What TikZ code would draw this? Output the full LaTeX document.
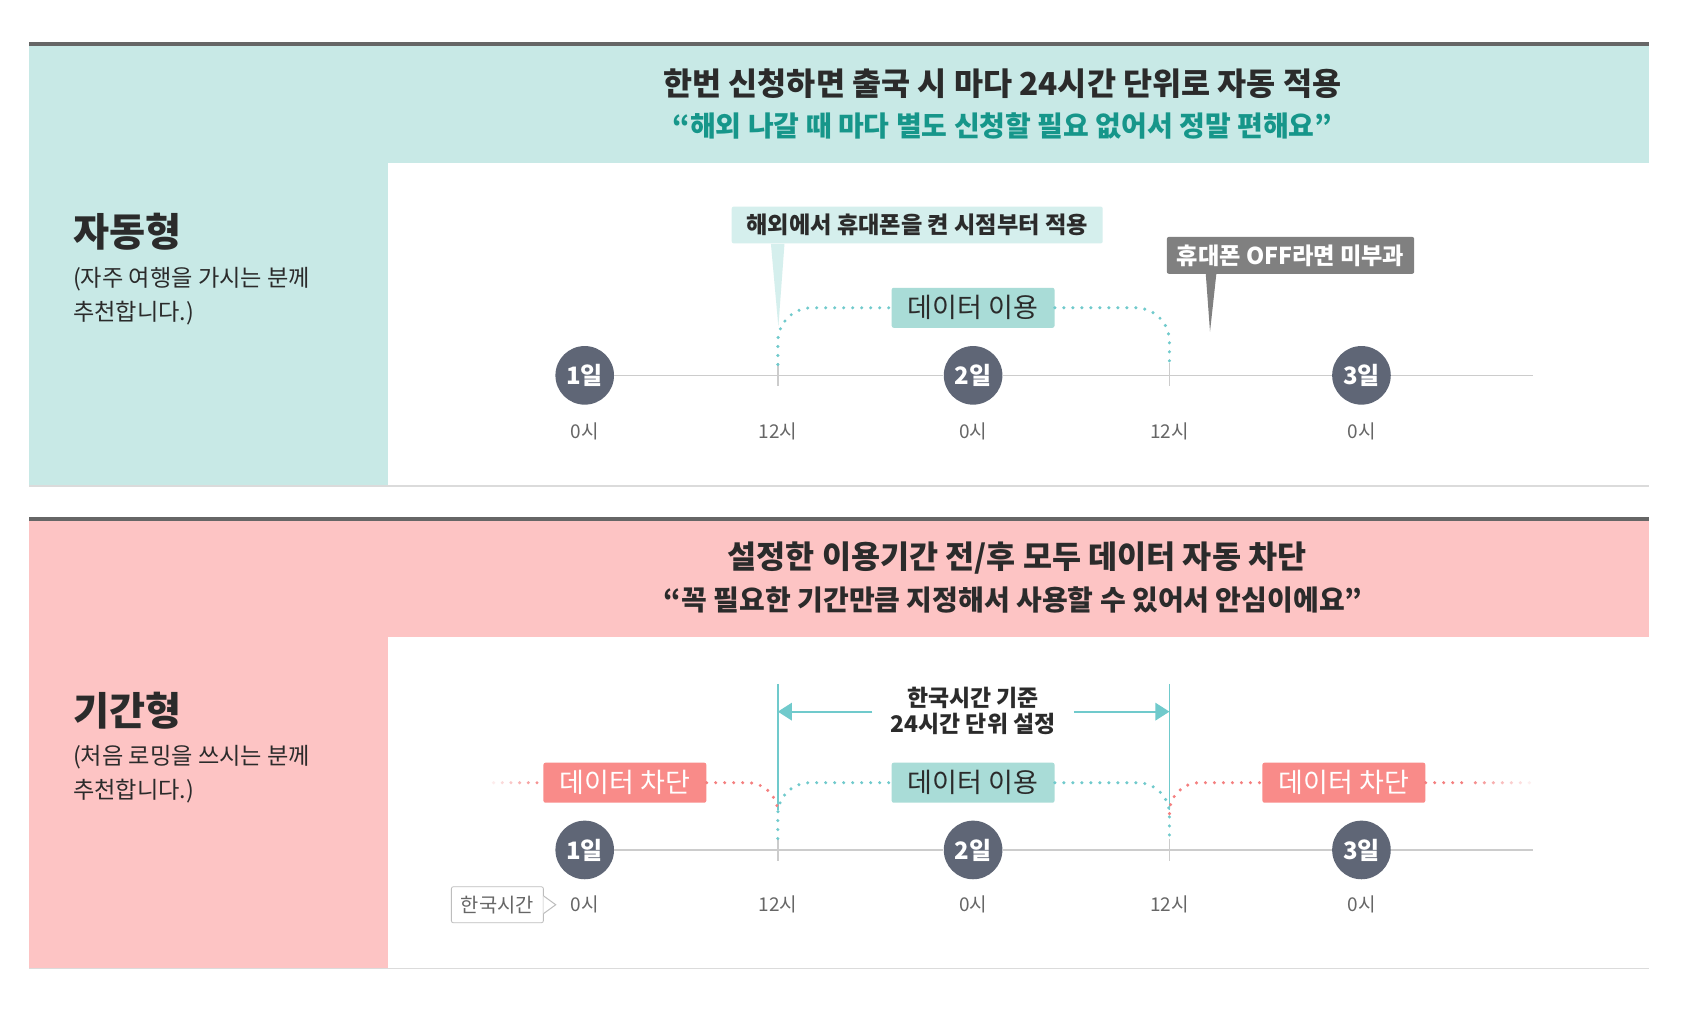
\documentclass[tikz,border=0pt]{standalone}
\usepackage{fontspec}
\setmainfont{Noto Sans CJK KR}
\usetikzlibrary{positioning, arrows.meta, calc}

\definecolor{autobg}{HTML}{C8E9E6}
\definecolor{termbg}{HTML}{FDC4C4}
\definecolor{topbar}{HTML}{666666}
\definecolor{daygray}{HTML}{5F6676}
\definecolor{useteal}{HTML}{70CACC}
\definecolor{usefill}{HTML}{A9DCD7}
\definecolor{cutpink}{HTML}{F47F7F}
\definecolor{cutfill}{HTML}{F98B89}
\definecolor{quoteteal}{HTML}{16968A}
\definecolor{tipteal}{HTML}{D5EFED}
\definecolor{tipgray}{HTML}{808080}
\definecolor{axisgray}{HTML}{CCCCCC}
\definecolor{hourgray}{HTML}{666666}
\definecolor{textdark}{HTML}{2B2B2B}

\begin{document}
\begin{tikzpicture}[
    x=0.5424pt, y=-0.5424pt,
    % Estilos
    headline/.style={text=textdark, font=\bfseries\fontsize{15.8}{17}\selectfont, inner sep=0pt},
    quoteline/.style={font=\bfseries\fontsize{14}{15}\selectfont, inner sep=0pt},
    typename/.style={anchor=west, text=textdark, font=\bfseries\fontsize{19.6}{21}\selectfont, inner sep=0pt},
    typenote/.style={anchor=north west, align=left, text=textdark, font=\fontsize{11.6}{17}\selectfont, inner sep=0pt},
    daydot/.style={circle, fill=daygray, minimum size=29.3pt, inner sep=0pt, text=white, font=\bfseries\fontsize{12}{13}\selectfont},
    hourlabel/.style={text=hourgray, font=\fontsize{9.5}{10}\selectfont, inner sep=0pt},
    statebox/.style={rounded corners=1pt, minimum width=81.4pt, minimum height=20pt, inner sep=0pt, font=\fontsize{13.5}{14}\selectfont},
    usebox/.style={statebox, fill=usefill, text=textdark},
    cutbox/.style={statebox, fill=cutfill, text=white},
    tipbox/.style={rounded corners=1pt, minimum height=18.4pt, inner sep=0pt, font=\bfseries\fontsize{11.6}{12}\selectfont},
    dotline/.style={line width=1.7pt, line cap=round, dash pattern=on 0pt off 4.5pt},
    axisline/.style={draw=axisgray, line width=0.8pt},
    spanarrow/.style={draw=useteal, line width=0.9pt, -{Triangle[length=7pt, width=8.7pt]}},
    kstbox/.style={draw=axisgray!80!gray, fill=white, rounded corners=1pt, minimum width=46pt, minimum height=18pt, inner sep=0pt, text=hourgray, font=\fontsize{9.9}{10}\selectfont}
]

\useasboundingbox (0,0) rectangle (1568,930);
\fill[white] (0,0) rectangle (1568,930);

% -------------------------
% AUTOMATICO (arriba)
% -------------------------
\fill[autobg] (27,42) rectangle (1520,448);
\fill[white] (358,150) rectangle (1520,448);
\draw[topbar, line width=2pt] (27,40.5) -- (1520,40.5);
\draw[axisgray!70, line width=0.6pt] (27,448) -- (1520,448);

\node[headline] (autotitle) at (924,77) {한번 신청하면 출국 시 마다 24시간 단위로 자동 적용};
\node[quoteline, text=quoteteal] (autoquote) at (924,116) {“해외 나갈 때 마다 별도 신청할 필요 없어서 정말 편해요”};

\node[typename] (autoname) at (67,214) {자동형};
\node[typenote] (autonote) at (67,246) {(자주 여행을 가시는 분께\\추천합니다.)};

% linea de tiempo
\coordinate (autoend) at (1413,346);
\node[daydot] (auto1) at (539,346) {1일};
\node[daydot] (auto2) at (897,346) {2일};
\node[daydot] (auto3) at (1255,346) {3일};
\draw[axisline] (auto1) -- (auto2) -- (auto3) -- (autoend);
\draw[axisline] (717,335) -- (717,356);
\draw[axisline] (1078,335) -- (1078,356);

\node[hourlabel] (autoh1) at (539,398) {0시};
\node[hourlabel] (autoh2) at (717,398) {12시};
\node[hourlabel] (autoh3) at (897,398) {0시};
\node[hourlabel] (autoh4) at (1078,398) {12시};
\node[hourlabel] (autoh5) at (1255,398) {0시};

% globos
\node[tipbox, fill=tipteal, text=textdark, minimum width=185.5pt] (autotipon) at (845.5,207.4) {해외에서 휴대폰을 켠 시점부터 적용};
\fill[tipteal] ($(autotipon.south west)+(36.5,0)$) -- (717.5,301) -- ($(autotipon.south west)+(49,0)$) -- cycle;

\node[tipbox, fill=tipgray, text=white, minimum width=123.7pt] (autotipoff) at (1189.6,235.4) {휴대폰 OFF라면 미부과};
\fill[tipgray] ($(autotipoff.south west)+(36.3,0)$) -- (1115.4,305.8) -- ($(autotipoff.south west)+(46,0)$) -- cycle;

% uso de datos
\node[usebox] (autouse) at (897,283.7) {데이터 이용};
\draw[dotline, useteal, rounded corners=17pt] (717,336) -- (717,283.7) -- (autouse.west);
\draw[dotline, useteal, rounded corners=17pt] (autouse.east) -- (1078,283.7) -- (1078,336);

% -------------------------
% POR PERIODO (abajo)
% -------------------------
\fill[termbg] (27,480) rectangle (1520,893);
\fill[white] (358,587) rectangle (1520,893);
\draw[topbar, line width=2pt] (27,478.5) -- (1520,478.5);
\draw[axisgray!70, line width=0.6pt] (27,893) -- (1520,893);

\node[headline] (termtitle) at (937.5,514) {설정한 이용기간 전/후 모두 데이터 자동 차단};
\node[quoteline, text=textdark] (termquote) at (934,553) {“꼭 필요한 기간만큼 지정해서 사용할 수 있어서 안심이에요”};

\node[typename] (termname) at (67,655) {기간형};
\node[typenote] (termnote) at (67,687) {(처음 로밍을 쓰시는 분께\\추천합니다.)};

% linea de tiempo
\coordinate (termend) at (1413,783.5);
\node[daydot] (term1) at (539,783.5) {1일};
\node[daydot] (term2) at (897,783.5) {2일};
\node[daydot] (term3) at (1255,783.5) {3일};
\draw[axisline] (term1) -- (term2) -- (term3) -- (termend);
\draw[axisline] (717,773) -- (717,794);
\draw[axisline] (1078,773) -- (1078,794);

\node[hourlabel] (termh1) at (539,834) {0시};
\node[hourlabel] (termh2) at (717,834) {12시};
\node[hourlabel] (termh3) at (897,834) {0시};
\node[hourlabel] (termh4) at (1078,834) {12시};
\node[hourlabel] (termh5) at (1255,834) {0시};

% hora de Corea
\node[kstbox] (kst) at (458.5,834) {한국시간};
\fill[white] (kst.east) ++(-0.5,-8) -- ++(11.5,8) -- ++(-11.5,8) -- cycle;
\draw[axisgray!80!gray, line width=0.5pt] (kst.east) ++(0,-8) -- ++(11,8) -- ++(-11,8);

% periodo de 24 horas
\draw[useteal, line width=0.9pt] (717,630.5) -- (717,747);
\draw[useteal, line width=0.9pt] (1078,630.5) -- (1078,747);
\coordinate (spanleft) at (717,656);
\coordinate (spanright) at (1078,656);
\node[align=center, text=textdark, font=\bfseries\fontsize{11.45}{13}\selectfont, inner xsep=9pt, inner ysep=0pt] (spanlabel) at (897,655) {한국시간 기준\\24시간 단위 설정};
\draw[spanarrow] (spanlabel.west |- spanleft) -- (spanleft);
\draw[spanarrow] (spanlabel.east |- spanright) -- (spanright);

% bloqueo / uso
\node[cutbox] (termcut1) at (576,721.5) {데이터 차단};
\node[usebox] (termuse) at (897,721.5) {데이터 이용};
\node[cutbox] (termcut2) at (1238.8,721.5) {데이터 차단};

\draw[dotline, cutpink, rounded corners=15pt] (termcut1.east) -- (717,721.5) -- (717,750);
\draw[dotline, useteal, rounded corners=16pt] (717,773) -- (717,721.5) -- (termuse.west);
\draw[dotline, useteal, rounded corners=16pt] (termuse.east) -- (1078,721.5) -- (1078,773);
\draw[dotline, cutpink, rounded corners=15pt] (1078,750) -- (1078,721.5) -- (termcut2.west);
\draw[dotline, cutpink] (termcut2.east) -- (1352,721.5);

\foreach \k [evaluate=\k as \op using (\k+1)/7] in {0,...,5}
    \fill[cutpink, opacity=\op] ({455+8*\k},721.5) circle (0.85pt);
\foreach \k [evaluate=\k as \op using 1-(\k+1)/8] in {0,...,6}
    \fill[cutpink, opacity=\op] ({1360+8.3*\k},721.5) circle (0.85pt);

\end{tikzpicture}
\end{document}
